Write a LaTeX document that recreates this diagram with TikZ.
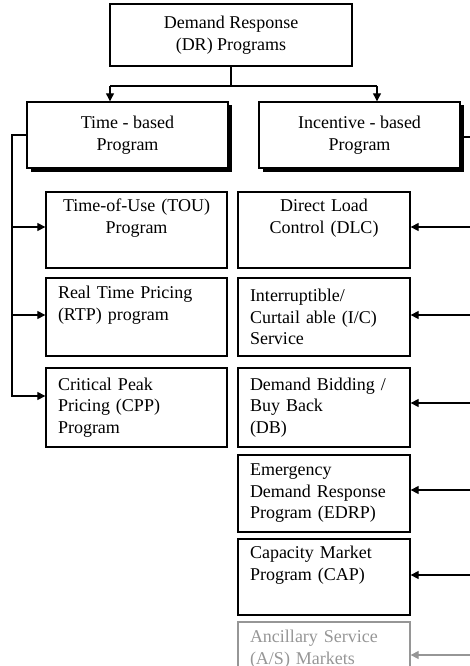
\documentclass[tikz,border=0pt]{standalone}
\usepackage{fontspec}
\setmainfont{Liberation Serif}
\usetikzlibrary{arrows.meta,shadows}
\definecolor{fadegray}{RGB}{150,150,150}
\begin{document}
\begin{tikzpicture}[x=1pt,y=-1pt,
  every node/.style={font=\fontsize{18}{21.5}\selectfont},
  box/.style={draw, line width=1.3pt, inner xsep=12pt, inner ysep=0pt, align=center},
  shbox/.style={box, line width=1.4pt, fill=white,
    drop shadow={shadow xshift=3.5pt, shadow yshift=-3.5pt, fill=black, opacity=1}},
  lbox/.style={box, text width=157pt, align=left},
  rbox/.style={box, text width=148pt, align=left},
  conn/.style={line width=1.2pt},
  arr/.style={conn, -{Triangle[length=8pt,width=8pt]}}
]
\useasboundingbox (0,0) rectangle (470,666);
\clip (0,0) rectangle (470,666);

% top
\node[box, minimum width=242pt, minimum height=62pt] (top) at (231,35) {Demand Response\\(DR) Programs};
\node[shbox, minimum width=201pt, minimum height=66pt] (time) at (127.5,135) {Time - based\\Program};
\node[shbox, minimum width=201pt, minimum height=66pt] (inc) at (359.5,135) {Incentive - based\\Program};

% left column
\node[lbox, align=center, minimum height=76pt] (tou) at (136.5,230) {Time-of-Use (TOU)\\Program\\\strut};
\node[lbox, minimum height=78pt] (rtp) at (136.5,317) {Real Time Pricing\\(RTP) program\\\strut};
\node[lbox, minimum height=79pt] (cpp) at (136.5,407.5) {Critical Peak\\Pricing (CPP)\\Program};

% right column
\node[rbox, align=center, minimum height=76pt] (dlc) at (324,230) {Direct Load\\Control (DLC)\\\strut};
\node[rbox, minimum height=78pt] (ic) at (324,317) {Interruptible/\\Curtail able (I/C)\\Service};
\node[rbox, minimum height=79pt] (db) at (324,407.5) {Demand Bidding /\\Buy Back\\(DB)};
\node[rbox, minimum height=77pt] (edrp) at (324,493.5) {Emergency\\Demand Response\\Program (EDRP)};
\node[rbox, minimum height=76pt] (cap) at (324,577) {Capacity Market\\Program (CAP)\\\strut};
\node[rbox, draw=fadegray, text=fadegray, minimum height=78pt] (as) at (324,661) {Ancillary Service\\(A/S) Markets\\\strut};

% top connectors
\coordinate (j) at (top.south |- 0,86);
\coordinate (jl) at (110,86);
\coordinate (jr) at (377,86);
\draw[conn] (top.south) -- (j);
\draw[conn] (jl) -- (jr);
\draw[arr] (jl) -- (time.north -| jl);
\draw[arr] (jr) -- (inc.north -| jr);

% left bus
\coordinate (lb) at (12,135);
\coordinate (lb1) at (12,227);
\coordinate (lb2) at (12,315);
\coordinate (lb3) at (12,396);
\draw[arr] (time.west) -- (lb) -- (lb3) -- (cpp.west |- lb3);
\draw[arr] (lb1) -- (tou.west |- lb1);
\draw[arr] (lb2) -- (rtp.west |- lb2);

% right bus
\coordinate (rb) at (470,137);
\coordinate (r1) at (470,227);
\coordinate (r2) at (470,315);
\coordinate (r3) at (470,403);
\coordinate (r4) at (470,490);
\coordinate (r5) at (470,575);
\coordinate (r6) at (470,655);
\draw[conn] (inc.east |- rb) -- (rb);
\draw[arr] (r1) -- (dlc.east |- r1);
\draw[arr] (r2) -- (ic.east |- r2);
\draw[arr] (r3) -- (db.east |- r3);
\draw[arr] (r4) -- (edrp.east |- r4);
\draw[arr] (r5) -- (cap.east |- r5);
\draw[arr, fadegray] (r6) -- (as.east |- r6);
\end{tikzpicture}
\end{document}
